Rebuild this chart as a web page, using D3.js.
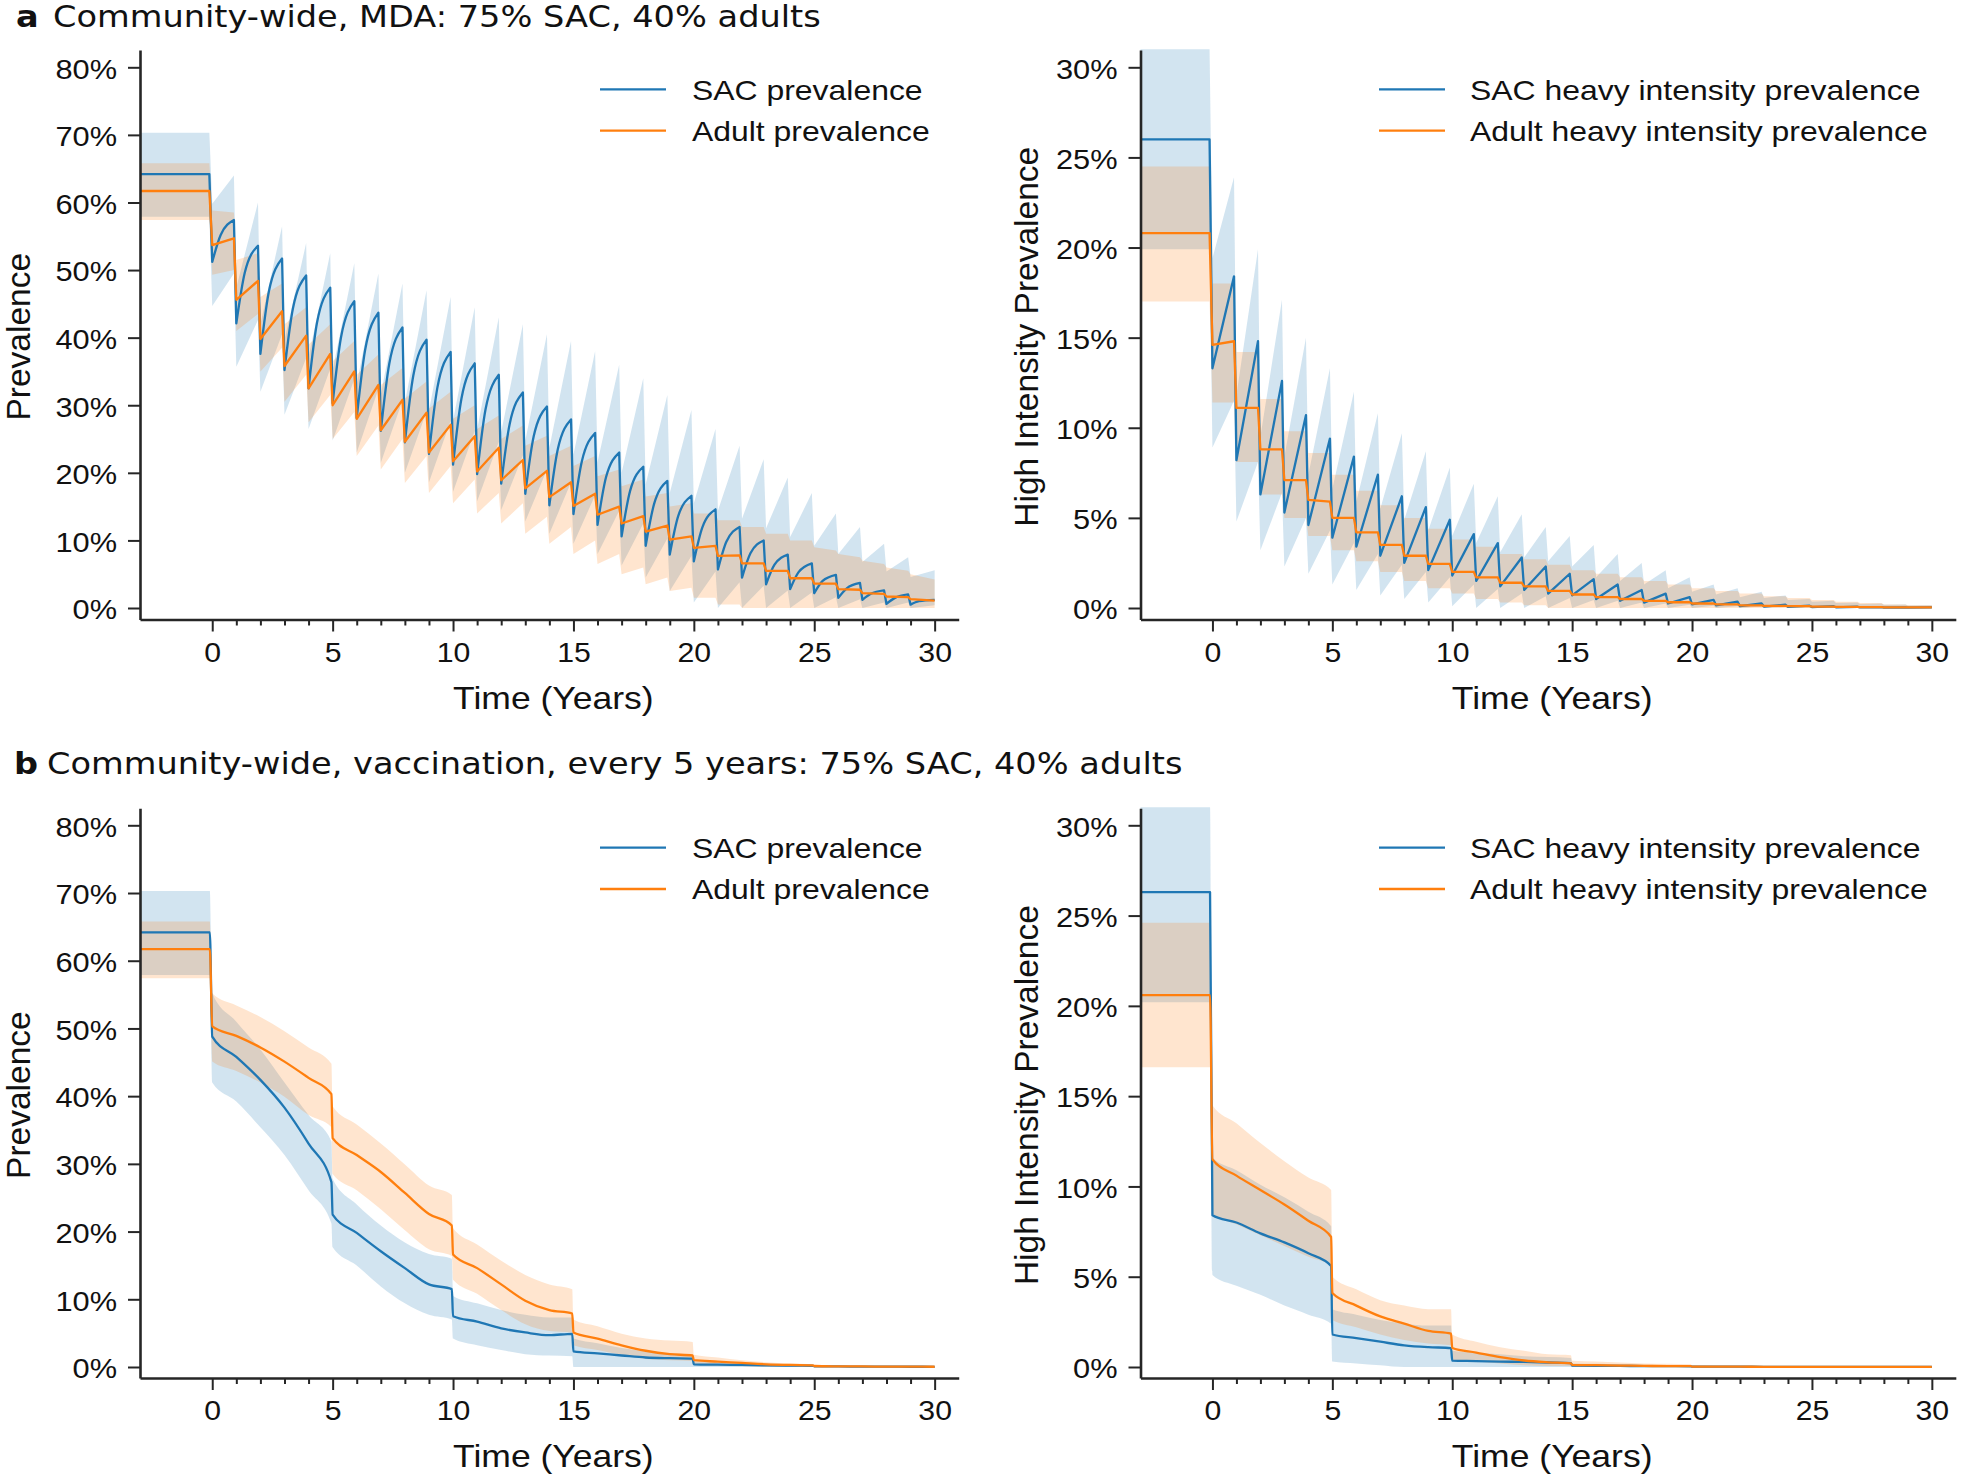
<!DOCTYPE html>
<html><head><meta charset="utf-8">
<script src="https://cdn.jsdelivr.net/npm/d3@7"></script>
<style>body{margin:0;background:#fff}svg{display:block}</style>
</head><body>
<svg id="c" width="1961" height="1476"></svg>
<script>
// ---------------- data ----------------
const xTicks = [0, 5, 10, 15, 20, 25, 30];
const xMinor = [1,2,3,4,6,7,8,9,11,12,13,14,16,17,18,19,21,22,23,24,26,27,28,29];
const prevTicks = [0, 10, 20, 30, 40, 50, 60, 70, 80];
const heavyTicks = [0, 5, 10, 15, 20, 25, 30];

const titleA = "Community-wide, MDA: 75% SAC, 40% adults";
const titleB = "Community-wide, vaccination, every 5 years: 75% SAC, 40% adults";
const legPrev = ["SAC prevalence", "Adult prevalence"];
const legHeavy = ["SAC heavy intensity prevalence", "Adult heavy intensity prevalence"];

// Panel a: pre-treatment [mean, lo, hi] (%)
const aSacPrevPre = [64.2, 57.9, 70.3];
const aAdultPrevPre = [61.7, 57.4, 65.8];
const aSacHeavyPre = [26.0, 19.9, 31.0];
const aAdultHeavyPre = [20.8, 17.0, 24.5];

// Panel a, SAC prevalence per treatment year: [trough, mid, peak, loStart, loEnd, hiStart, hiEnd]
const aSacPrev = [
 [51.2,55.2,57.4,44.7,49.5,59.8,64.0],[42.1,49.6,53.6,35.7,42.6,47.4,60.0],
 [37.6,46.8,51.7,32.0,40.5,42.0,56.5],[35.2,44.3,49.2,28.6,37.0,39.6,54.0],
 [32.5,42.2,47.4,26.5,35.4,37.1,52.5],[30.3,40.1,45.4,24.8,33.9,35.2,51.0],
 [28.1,38.2,43.7,23.0,32.4,33.1,49.5],[26.2,36.1,41.5,21.5,30.7,31.6,48.0],
 [24.5,34.4,39.7,20.0,29.1,30.4,47.0],[22.8,32.6,37.9,18.6,27.7,29.2,46.0],
 [21.2,31.0,36.2,17.2,26.2,27.7,44.5],[19.8,29.4,34.5,15.8,24.6,26.4,43.0],
 [18.4,27.2,31.9,14.5,22.6,26.0,42.0],[16.9,25.4,29.8,12.8,20.5,24.8,40.5],
 [15.2,23.5,27.9,11.0,18.6,23.7,39.5],[13.9,21.7,25.9,9.5,16.7,22.7,38.0],
 [12.3,19.3,23.0,8.0,14.4,21.6,36.0],[10.6,17.3,20.9,6.3,12.5,20.0,34.0],
 [9.2,15.4,18.8,4.5,10.3,18.3,31.5],[7.9,13.6,16.6,2.5,7.7,17.0,29.3],
 [6.9,11.9,14.6,0.8,5.4,15.5,26.5],[5.7,9.8,12.0,0,3.8,14.4,24.0],
 [4.5,8.1,10.0,0,3.3,13.2,22.0],[3.5,6.4,7.9,0,2.6,11.8,19.3],
 [2.8,5.3,6.6,0,2.3,10.5,17.0],[2.2,4.0,4.9,0,1.6,9.2,14.0],
 [1.5,2.9,3.7,0,1.3,8.0,12.0],[1.2,2.1,2.6,0,0.8,6.8,9.5],
 [0.6,1.5,2.0,0,0.8,5.4,7.5],[0.5,1.0,1.2,0,0.4,4.6,5.6]
];
// Panel a, adult prevalence: [trough, peak, loStart, loEnd, hiStart, hiEnd]
const aAdultPrev = [
 [53.7,54.7,49.3,50.0,58.8,58.5],[45.6,48.4,41.0,43.5,51.5,52.5],
 [39.8,43.9,35.0,38.5,46.0,48.0],[35.8,40.3,30.5,34.5,42.0,44.5],
 [32.5,37.6,27.5,31.5,39.0,42.0],[30.0,35.0,25.0,29.0,36.5,39.5],
 [28.0,33.0,22.5,27.0,34.5,37.5],[26.3,30.8,20.5,25.0,33.0,35.5],
 [24.6,28.9,18.5,22.5,31.0,33.5],[23.0,27.1,17.0,21.0,29.5,32.0],
 [21.7,25.4,15.5,19.0,28.0,30.0],[20.2,23.7,14.0,17.0,26.5,28.5],
 [18.9,21.9,12.5,15.5,25.0,27.0],[17.7,20.3,11.0,13.5,24.0,25.5],
 [16.4,18.6,9.5,12.0,22.5,24.0],[15.1,16.9,8.0,10.0,21.0,22.5],
 [13.8,15.0,6.5,8.0,19.5,20.5],[12.5,13.6,5.0,6.0,18.0,19.0],
 [11.3,12.2,3.5,4.5,16.5,17.0],[10.1,10.6,2.5,3.0,15.0,15.5],
 [8.9,9.2,1.5,1.5,14.0,14.0],[7.7,7.8,0.5,0.5,13.0,13.0],
 [6.6,6.6,0,0,12.0,12.0],[5.5,5.5,0,0,11.0,11.0],
 [4.4,4.4,0,0,10.0,10.0],[3.6,3.6,0,0,9.0,8.5],
 [2.8,2.7,0,0,8.0,7.5],[2.2,2.1,0,0,7.0,6.5],
 [1.7,1.6,0,0,6.0,5.5],[1.3,1.1,0,0,5.0,4.2]
];
// Panel a, SAC heavy intensity: [trough, peak, loStart, loEnd, hiStart, hiEnd]
const aSacHeavy = [
 [13.3,18.4,8.9,11.5,19.4,23.9],[8.2,14.8,4.8,8.1,11.8,19.9],
 [6.3,12.6,3.2,6.4,9.5,17.1],[5.3,10.7,2.3,5.0,8.4,15.0],
 [4.6,9.4,1.9,4.3,7.4,13.3],[3.9,8.4,1.3,3.6,6.6,12.0],
 [3.4,7.4,1.0,3.0,5.9,10.8],[2.9,6.2,0.7,2.4,5.5,9.7],
 [2.5,5.6,0.5,2.0,4.9,8.7],[2.1,4.9,0.3,1.7,4.3,7.8],
 [1.8,4.1,0.1,1.3,4.0,6.9],[1.5,3.6,0,1.05,3.6,6.2],
 [1.2,2.8,0,0.8,3.1,5.2],[1.0,2.3,0,0.65,2.8,4.5],
 [0.8,1.9,0,0.55,2.6,4.0],[0.7,1.6,0,0.45,2.3,3.5],
 [0.5,1.3,0,0.4,1.7,3.0],[0.4,1.0,0,0.3,1.5,2.5],
 [0.3,0.8,0,0.25,1.3,2.1],[0.25,0.6,0,0.18,1.1,1.7],
 [0.2,0.45,0,0.12,0.9,1.3],[0.15,0.35,0,0.1,0.75,1.1],
 [0.1,0.25,0,0.08,0.6,0.9],[0.08,0.18,0,0.05,0.55,0.7],
 [0.06,0.13,0,0.03,0.45,0.5],[0.05,0.1,0,0.02,0.35,0.4],
 [0.04,0.07,0,0.02,0.28,0.3],[0.03,0.05,0,0.01,0.22,0.25],
 [0.02,0.04,0,0.01,0.18,0.2],[0.02,0.03,0,0.01,0.14,0.15]
];
// Panel a, adult heavy intensity: [trough, peak, lo, hi]
const aAdultHeavy = [
 [14.6,14.8,11.4,18.0],[11.1,11.1,8.1,14.2],[8.8,8.8,6.3,11.6],[7.1,7.1,5.0,9.8],
 [6.0,5.9,4.0,8.6],[5.0,5.0,3.2,7.4],[4.2,4.2,2.6,6.5],[3.5,3.5,2.0,5.7],
 [2.9,2.9,1.5,5.0],[2.45,2.45,1.1,4.4],[2.0,2.0,0.8,3.8],[1.7,1.7,0.5,3.4],
 [1.4,1.4,0.3,3.0],[1.2,1.2,0.15,2.7],[0.95,0.95,0,2.4],[0.75,0.75,0,2.1],
 [0.6,0.6,0,1.9],[0.5,0.5,0,1.7],[0.4,0.4,0,1.5],[0.32,0.32,0,1.3],
 [0.25,0.25,0,1.1],[0.2,0.2,0,0.95],[0.15,0.15,0,0.8],[0.12,0.12,0,0.65],
 [0.1,0.1,0,0.55],[0.08,0.08,0,0.45],[0.06,0.06,0,0.35],[0.05,0.05,0,0.28],
 [0.04,0.04,0,0.2],[0.03,0.03,0,0.15]
];

// Panel b (vaccination): time points (years) and values (%)
const bTimes = [-3,-0.1,0,1,2,3,4,4.95,5,6,7,8,9,9.95,10,11,12,13,14,14.95,15,16,17,18,19,19.95,20,21,22,23,24,24.95,25,26,27,28,29,30];
const bSacPrev   = [64.2,64.2,48.8,45.8,42.4,38.3,33.0,27.3,22.5,19.8,17.1,14.6,12.2,11.5,7.5,6.7,5.7,5.1,4.7,4.9,2.3,2.0,1.7,1.4,1.3,1.25,0.4,0.35,0.3,0.25,0.2,0.18,0.1,0.08,0.06,0.05,0.04,0.03];
const bSacPrevLo = [57.9,57.9,42.0,39.2,35.4,31.3,26.1,21.2,17.7,15.0,11.9,9.4,7.7,7.0,4.2,3.2,2.5,1.9,1.7,1.6,0,0,0,0,0,0,0,0,0,0,0,0,0,0,0,0,0,0];
const bSacPrevHi = [70.3,70.3,55.2,51.0,46.9,42.0,37.2,33.3,27.8,24.0,20.9,18.4,16.7,16.0,10.5,9.4,8.4,7.7,7.3,7.3,4.2,3.5,2.8,2.3,2.0,1.8,0.8,0.7,0.6,0.5,0.4,0.35,0.15,0.1,0.08,0.06,0.05,0.04];
const bAdultPrev   = [61.7,61.7,50.3,48.9,47.2,45.1,42.7,40.3,33.8,31.3,28.8,25.7,22.6,20.9,16.6,14.6,12.2,9.8,8.4,7.9,5.1,4.2,3.2,2.4,1.9,1.7,1.0,0.8,0.6,0.4,0.3,0.25,0.15,0.1,0.08,0.06,0.05,0.04];
const bAdultPrevLo = [57.4,57.4,45.1,43.7,42.0,39.9,37.2,35.4,28.5,26.1,23.3,20.2,17.4,16.4,12.9,10.8,8.4,6.3,5.3,5.1,3.2,2.5,1.8,1.2,1.0,0.9,0.3,0.2,0.1,0.05,0,0,0,0,0,0,0,0];
const bAdultPrevHi = [65.8,65.8,55.2,53.4,51.7,49.6,47.2,44.8,38.5,35.8,33.0,29.9,26.8,25.4,20.5,18.1,15.7,13.6,12.2,11.5,7.0,6.0,4.9,4.2,3.9,3.7,1.8,1.4,1.0,0.7,0.5,0.4,0.1,0.08,0.06,0.05,0.04,0.03];
const bSacHeavy   = [26.3,26.3,8.4,8.0,7.4,6.9,6.3,5.6,1.8,1.6,1.4,1.2,1.1,1.05,0.35,0.33,0.3,0.28,0.25,0.22,0.08,0.07,0.06,0.05,0.05,0.04,0.02,0.02,0.02,0.01,0.01,0.01,0.01,0.01,0.01,0.01,0.01,0.01];
const bSacHeavyLo = [20.2,20.2,5.1,4.5,4.0,3.4,2.9,2.4,0.3,0.2,0.1,0,0,0,0,0,0,0,0,0,0,0,0,0,0,0,0,0,0,0,0,0,0,0,0,0,0,0];
const bSacHeavyHi = [31.0,31.0,11.6,10.9,10.1,9.4,8.6,7.8,3.2,2.9,2.6,2.4,2.3,2.3,0.9,0.8,0.7,0.6,0.55,0.5,0.2,0.18,0.15,0.12,0.1,0.1,0.05,0.04,0.04,0.03,0.03,0.03,0.02,0.02,0.02,0.02,0.02,0.02];
const bAdultHeavy   = [20.6,20.6,11.5,10.6,9.8,9.0,8.1,7.2,4.1,3.4,2.8,2.4,2.0,1.85,1.05,0.8,0.55,0.36,0.26,0.2,0.12,0.1,0.08,0.06,0.05,0.05,0.02,0.02,0.02,0.01,0.01,0.01,0.01,0.01,0.01,0.01,0.01,0.01];
const bAdultHeavyLo = [16.6,16.6,8.5,7.9,7.3,6.7,6.1,5.6,2.6,2.2,1.8,1.5,1.3,1.2,0.4,0.3,0.2,0.1,0.05,0.05,0,0,0,0,0,0,0,0,0,0,0,0,0,0,0,0,0,0];
const bAdultHeavyHi = [24.6,24.6,14.5,13.5,12.4,11.4,10.5,9.8,5.0,4.3,3.7,3.4,3.2,3.2,1.8,1.4,1.1,0.9,0.7,0.65,0.35,0.3,0.25,0.2,0.18,0.15,0.08,0.06,0.05,0.04,0.03,0.03,0.01,0.01,0.01,0.01,0.01,0.01];

// ---------------- drawing ----------------
const BLUE = "#1f77b4", ORANGE = "#ff7f0e", INK = "#262626", TXT = "#111";
const FONT = "'Liberation Sans', Arial, Helvetica, sans-serif";
const TFONT = "'DejaVu Sans', sans-serif";
const svg = d3.select("#c");

const cols = [{left: 140, ppy: 24.08}, {left: 1140.5, ppy: 23.98}];
const rows = [{y0: 608, yTop: 67.3, top: 50, bot: 619.5}, {y0: 1367, yTop: 825.3, top: 808.3, bot: 1378}];

function sText(g, x, y, s, size, sx, opts = {}) {
  return g.append("text")
    .attr("transform", `translate(${x},${y}) scale(${sx},1)` + (opts.rot ? " rotate(-90)" : ""))
    .attr("font-family", opts.family || FONT)
    .attr("font-size", size)
    .attr("font-weight", opts.weight || "normal")
    .attr("text-anchor", opts.anchor || "start")
    .attr("fill", TXT)
    .text(s);
}

// line as a list of segments (pre-treatment flat part, then one rise per treatment year)
function sawSegments(pre, tbl, hasMid) {
  const segs = [[[-3, pre[0]], [-0.12, pre[0]]]];
  tbl.forEach((r, n) => {
    const end = n === tbl.length - 1 ? 30 : n + 0.9;
    segs.push(hasMid ? [[n, r[0]], [n + 0.35, r[1]], [end, r[2]]] : [[n, r[0]], [end, r[1]]]);
  });
  return segs;
}
function sawBand(pre, tbl, idx) {
  const pts = [[-3, pre[1], pre[2]], [-0.12, pre[1], pre[2]]];
  tbl.forEach((r, n) => {
    const end = n === tbl.length - 1 ? 30 : n + 0.9;
    pts.push([n, r[idx[0]], r[idx[2]]]);
    pts.push([end, r[idx[1]], r[idx[3]]]);
  });
  return pts;
}
function zipB(v) { return [bTimes.map((t, i) => [t, v[i]])]; }
function zipBand(lo, hi) { return bTimes.map((t, i) => [t, lo[i], hi[i]]); }

function panel(ci, ri, yMax, yTicks, ylabel, legendLabels, series, curves) {
  const c = cols[ci], r = rows[ri];
  const g = svg.append("g");
  const x = d3.scaleLinear().domain([-3, 31]).range([c.left, c.left + 34 * c.ppy]);
  const ppu = (r.y0 - r.yTop) / yMax;
  const y = d3.scaleLinear().domain([(r.y0 - r.bot) / ppu, (r.y0 - r.top) / ppu]).range([r.bot, r.top]);

  const area = d3.area().x(d => x(d[0])).y0(d => y(d[1])).y1(d => y(d[2])).curve(curves.band);
  const segPath = (segs, curve) => {
    const ln = d3.line().x(d => x(d[0])).y(d => y(d[1])).curve(curve);
    return segs.map((s, i) => { const p = ln(s); return i === 0 ? p : "L" + p.slice(1); }).join("");
  };

  g.append("path").attr("d", area(series.blueBand)).attr("fill", BLUE).attr("fill-opacity", 0.2);
  g.append("path").attr("d", area(series.orangeBand)).attr("fill", ORANGE).attr("fill-opacity", 0.2);
  g.append("path").attr("d", segPath(series.blueLine, curves.blue)).attr("fill", "none").attr("stroke", BLUE).attr("stroke-width", 2.3).attr("stroke-linejoin", "round");
  g.append("path").attr("d", segPath(series.orangeLine, curves.orange)).attr("fill", "none").attr("stroke", ORANGE).attr("stroke-width", 2.3).attr("stroke-linejoin", "round");

  const xa = g.append("g").attr("transform", `translate(0,${r.bot})`)
    .call(d3.axisBottom(x).tickValues(xTicks).tickSize(12).tickPadding(11).tickSizeOuter(0));
  const xm = g.append("g").attr("transform", `translate(0,${r.bot})`)
    .call(d3.axisBottom(x).tickValues(xMinor).tickSize(6).tickFormat(""));
  xm.select(".domain").remove();
  const ya = g.append("g").attr("transform", `translate(${c.left},0)`)
    .call(d3.axisLeft(y).tickValues(yTicks).tickSize(12).tickPadding(11).tickSizeOuter(0).tickFormat(d => d + "%"));

  [xa, xm, ya].forEach(a => {
    a.select(".domain").attr("stroke", INK).attr("stroke-width", 2.6);
    a.selectAll(".tick line").attr("stroke", INK).attr("stroke-width", 2);
  });
  xa.selectAll(".tick text").attr("font-family", FONT).attr("font-size", 27).attr("fill", TXT)
    .attr("transform", "scale(1.12,1)").attr("x", 0);
  ya.selectAll(".tick text").attr("font-family", FONT).attr("font-size", 27).attr("fill", TXT)
    .attr("x", -23 / 1.14).attr("dy", "0.4em").attr("transform", "scale(1.14,1)");

  const xc = (x(-3) + x(31)) / 2;
  sText(g, xc + 4, r.bot + 89, "Time (Years)", 32, 1.11, {anchor: "middle"});
  const yc = (r.top + r.bot) / 2 + 2;
  sText(g, ci === 0 ? 30 : 1038, yc, ylabel, 33.5, 1.0, {anchor: "middle", rot: true});

  const lx = ci === 0 ? 600 : 1379, tx = ci === 0 ? 692 : 1470;
  const ly = r.top + 39.3;
  [[BLUE, legendLabels[0], 0], [ORANGE, legendLabels[1], 41.4]].forEach(([col, lab, dy]) => {
    g.append("line").attr("x1", lx).attr("x2", lx + 66).attr("y1", ly + dy).attr("y2", ly + dy)
      .attr("stroke", col).attr("stroke-width", 2.3);
    sText(g, tx, ly + dy + 10.3, lab, 28.5, 1.12);
  });
}

panel(0, 0, 80, prevTicks, "Prevalence", legPrev, {
  blueBand: sawBand(aSacPrevPre, aSacPrev, [3, 4, 5, 6]),
  orangeBand: sawBand(aAdultPrevPre, aAdultPrev, [2, 3, 4, 5]),
  blueLine: sawSegments(aSacPrevPre, aSacPrev, true),
  orangeLine: sawSegments(aAdultPrevPre, aAdultPrev, false)
}, {band: d3.curveLinear, blue: d3.curveMonotoneX, orange: d3.curveLinear});

panel(1, 0, 30, heavyTicks, "High Intensity Prevalence", legHeavy, {
  blueBand: sawBand(aSacHeavyPre, aSacHeavy, [2, 3, 4, 5]),
  orangeBand: sawBand(aAdultHeavyPre, aAdultHeavy, [2, 2, 3, 3]),
  blueLine: sawSegments(aSacHeavyPre, aSacHeavy, false),
  orangeLine: sawSegments(aAdultHeavyPre, aAdultHeavy, false)
}, {band: d3.curveLinear, blue: d3.curveLinear, orange: d3.curveLinear});

panel(0, 1, 80, prevTicks, "Prevalence", legPrev, {
  blueBand: zipBand(bSacPrevLo, bSacPrevHi),
  orangeBand: zipBand(bAdultPrevLo, bAdultPrevHi),
  blueLine: zipB(bSacPrev),
  orangeLine: zipB(bAdultPrev)
}, {band: d3.curveMonotoneX, blue: d3.curveMonotoneX, orange: d3.curveMonotoneX});

panel(1, 1, 30, heavyTicks, "High Intensity Prevalence", legHeavy, {
  blueBand: zipBand(bSacHeavyLo, bSacHeavyHi),
  orangeBand: zipBand(bAdultHeavyLo, bAdultHeavyHi),
  blueLine: zipB(bSacHeavy),
  orangeLine: zipB(bAdultHeavy)
}, {band: d3.curveMonotoneX, blue: d3.curveMonotoneX, orange: d3.curveMonotoneX});

const tg = svg.append("g");
sText(tg, 16, 27, "a", 30, 1.12, {family: TFONT, weight: "bold"});
sText(tg, 53, 27, titleA, 30, 1.12, {family: TFONT});
sText(tg, 14, 774, "b", 30, 1.12, {family: TFONT, weight: "bold"});
sText(tg, 47, 774, titleB, 30, 1.12, {family: TFONT});
</script>
</body></html>
